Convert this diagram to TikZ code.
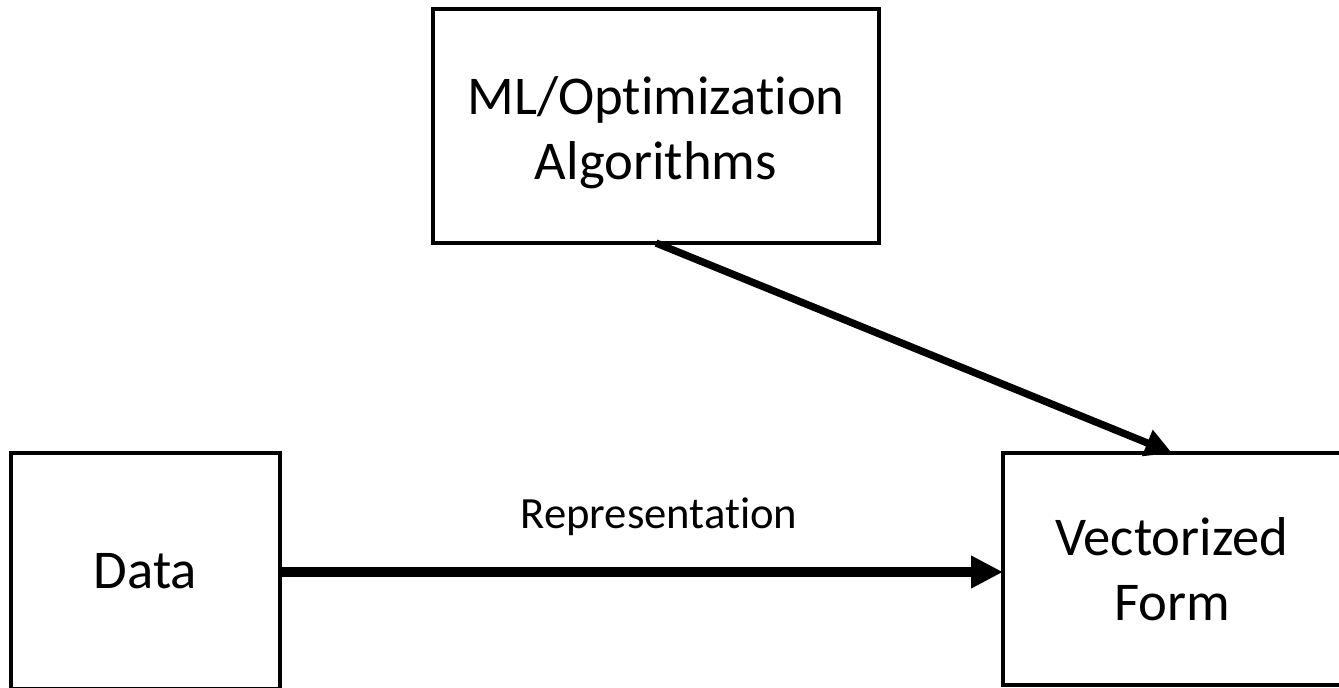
\documentclass[tikz,border=0pt]{standalone}
\usepackage{fontspec}
\setmainfont{Carlito}[Ligatures={NoCommon}]
\usetikzlibrary{arrows.meta}
\begin{document}
\begin{tikzpicture}[x=0.75pt,y=-0.75pt,
  box/.style={draw=black,line width=3pt,rectangle,inner sep=0pt,outer sep=0pt},
  boxtext/.style={align=center,inner sep=0pt,font=\fontsize{41}{49}\selectfont},
  conn/.style={draw=black,-{Triangle[length=24pt,width=23pt]}}
]
\useasboundingbox (0,0) rectangle (1339,687);
\clip (0,0) rectangle (1339,687);
\node[box,minimum width=334.5pt,minimum height=175.5pt] (ml) at (656,126) {};
\node[boxtext] (mltext) at ([yshift=-5pt]ml.center) {ML/Optimization\\Algorithms};
\node[box,boxtext,minimum width=201.75pt,minimum height=177pt] (data) at (145.5,571) {Data};
\node[box,boxtext,minimum width=253.5pt,minimum height=174pt] (vec) at (1172,569) {Vectorized\\Form};
\draw[conn,line width=7.5pt] (data.east |- 0,572) -- (vec.west |- 0,572);
\draw[conn,line width=5.5pt,-{Triangle[length=20pt,width=20pt]}] (ml.south) -- (vec.north);
\node[anchor=base,font=\fontsize{33.5}{38}\selectfont,inner sep=0pt] (rep) at (659,528) {Representation};
\end{tikzpicture}
\end{document}
